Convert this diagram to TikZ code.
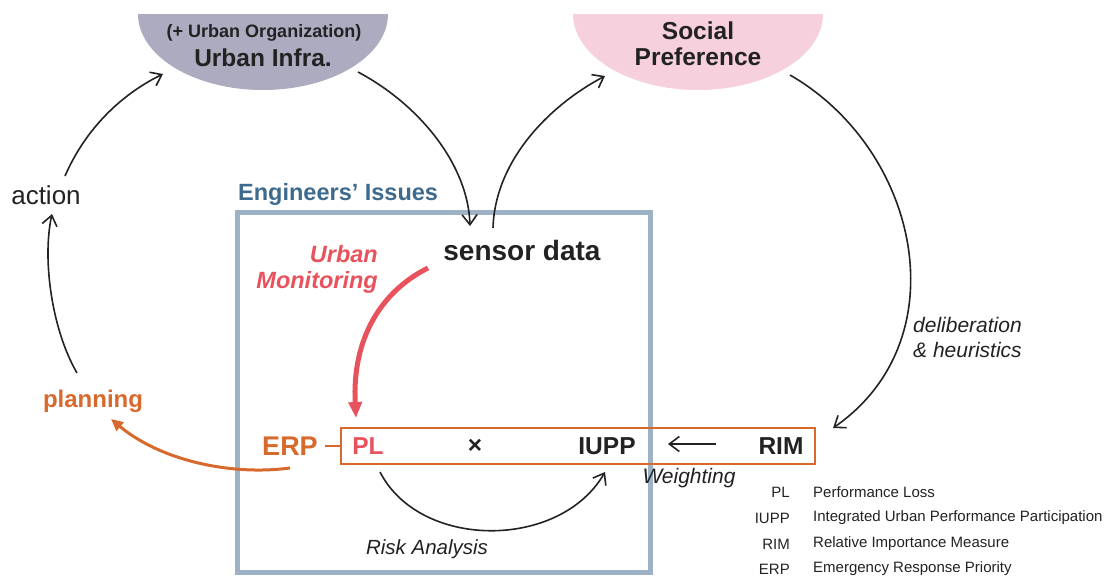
\documentclass[tikz,border=0pt]{standalone}
\usepackage{fontspec}
\setmainfont{Liberation Sans}
\usetikzlibrary{arrows.meta}
\definecolor{infragray}{HTML}{ACABC0}
\definecolor{prefpink}{HTML}{F6D0DC}
\definecolor{engframe}{HTML}{9DB2C5}
\definecolor{engtitle}{HTML}{3E6A8D}
\definecolor{riskred}{HTML}{E8525C}
\definecolor{erporange}{HTML}{D8692C}
\definecolor{ink}{HTML}{222222}
\tikzset{
  flow/.style={draw=ink, line width=1.6pt, -{Straight Barb[length=10pt,width=15pt,line width=1.6pt]}},
  big/.style={font=\fontsize{24.5}{26}\selectfont\bfseries, text=ink, inner sep=0pt},
  lbl/.style={font=\fontsize{21}{25}\selectfont\itshape, text=ink, inner sep=0pt},
  legab/.style={font=\fontsize{15}{16}\selectfont, text=ink, anchor=east, inner sep=0pt},
  legtx/.style={font=\fontsize{15}{16}\selectfont, text=ink, anchor=west, inner sep=0pt},
}
\begin{document}
\begin{tikzpicture}[x=1pt,y=-1pt]
\useasboundingbox (0,0) rectangle (1105,576);

% half-disc heads of the two loops
\fill[infragray] (138,14) arc[start angle=180, end angle=0, x radius=125, y radius=76] -- cycle;
\fill[prefpink] (573,14) arc[start angle=180, end angle=0, x radius=125, y radius=76] -- cycle;
\node[font=\fontsize{18}{20}\selectfont\bfseries, text=ink, inner sep=0pt] (org) at (264,33) {(+ Urban Organization)};
\node[big] (infra) at (263,58) {Urban Infra.};
\node[big] (soc) at (698,31) {Social};
\node[big] (pref) at (698,57) {Preference};

% engineers' frame
\draw[engframe, line width=5pt] (237,212) rectangle (650,572);
\node[font=\fontsize{23.5}{26}\selectfont\bfseries, text=engtitle, anchor=west, inner sep=0pt] (eng) at (238,194) {Engineers’ Issues};

\node[font=\fontsize{28}{30}\selectfont\bfseries, text=ink, inner sep=0pt] (sensor) at (522,250) {sensor data};
\node[font=\fontsize{23.5}{26}\selectfont\bfseries\itshape, text=riskred, align=right, anchor=east, inner sep=0pt] (mon) at (378,269) {Urban\\Monitoring};

% risk product row
\draw[erporange, line width=2pt] (341,428) rectangle (815,464);
\node[big, text=riskred] (pl) at (368,446) {PL};
\node[big] (times) at (475,446) {×};
\node[big] (iupp) at (607,446) {IUPP};
\node[big] (rim) at (781,446) {RIM};
\node[font=\fontsize{27}{29}\selectfont\bfseries, text=erporange, inner sep=0pt] (erp) at (290,446) {ERP};
\coordinate (erpdash) at (325,446);
\coordinate (boxw) at (341,446);
\draw[erporange, line width=2pt] (erpdash) -- (boxw);

\node[font=\fontsize{26}{28}\selectfont, text=ink, inner sep=0pt] (action) at (46,195) {action};
\node[font=\fontsize{24}{26}\selectfont\bfseries, text=erporange, inner sep=0pt] (plan) at (93,401) {planning};

\node[lbl, align=left, anchor=west] (delib) at (913,337) {deliberation\\\& heuristics};
\node[lbl] (weight) at (689,478) {Weighting};
\node[lbl, font=\fontsize{20.5}{24}\selectfont\itshape] (risk) at (427,549) {Risk Analysis};

% connector ends
\coordinate (infraOut) at (358,72);
\coordinate (infraIn) at (163,74);
\coordinate (prefIn) at (605,76);
\coordinate (prefOut) at (790,75);
\coordinate (sensorIn) at (470,226);
\coordinate (sensorOut) at (493,228);
\coordinate (rimIn) at (833,428);
\coordinate (planOut) at (77,373);
\coordinate (actIn) at (52,214);
\coordinate (actOut) at (65,176);
\coordinate (plOut) at (380,472);
\coordinate (iuppIn) at (605,472);
\coordinate (rimOut) at (716,444);
\coordinate (iuppE) at (668,444);
\coordinate (monStart) at (428,268);
\coordinate (plIn) at (356,418);
\coordinate (erpOut) at (290,468);
\coordinate (planIn) at (111,419);

\draw[flow] (infraOut) .. controls (420,105) and (468,165) .. (sensorIn);
\draw[flow] (sensorOut) .. controls (495,160) and (550,105) .. (prefIn);
\draw[flow] (prefOut) .. controls (920,150) and (960,340) .. (rimIn);
\draw[flow] (planOut) .. controls (52,330) and (42,260) .. (actIn);
\draw[flow] (actOut) .. controls (85,130) and (120,95) .. (infraIn);
\draw[flow] (plOut) .. controls (420,550) and (560,550) .. (iuppIn);
\draw[flow] (rimOut) -- (iuppE);

% coloured flows
\draw[riskred, line width=5pt, -{Triangle[length=16pt,width=13pt]}] (monStart) .. controls (380,292) and (352,340) .. (plIn);
\draw[erporange, line width=3pt, -{Triangle[length=12pt,width=11pt]}] (erpOut) .. controls (230,476) and (160,460) .. (planIn);

% legend
\node[legab] (lpl) at (790,492) {PL};
\node[legtx] (tpl) at (813,492) {Performance Loss};
\node[legab] (liupp) at (790,518) {IUPP};
\node[legtx] (tiupp) at (813,518) {Integrated Urban Performance Participation};
\node[legab] (lrim) at (790,544) {RIM};
\node[legtx] (trim) at (813,544) {Relative Importance Measure};
\node[legab] (lerp) at (790,569) {ERP};
\node[legtx] (terp) at (813,569) {Emergency Response Priority};
\end{tikzpicture}
\end{document}
